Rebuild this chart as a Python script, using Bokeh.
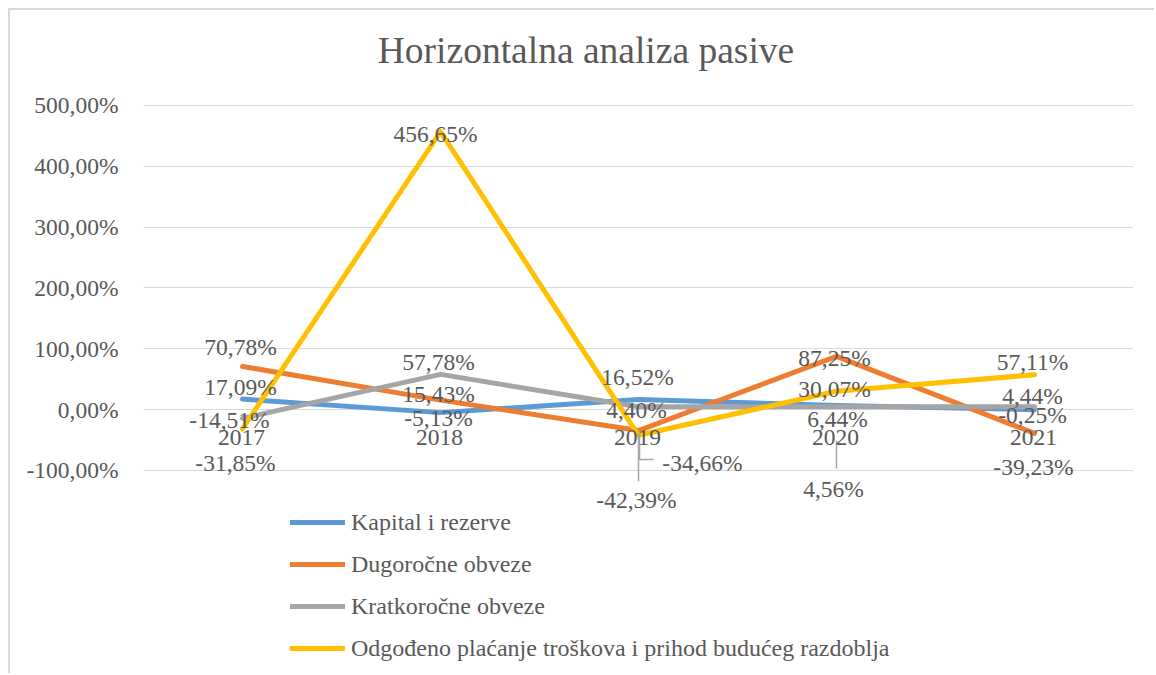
from bokeh.plotting import figure
from bokeh.models import ColumnDataSource, Range1d, FixedTicker, Legend, LegendItem, Label
from bokeh.core.properties import value
from bokeh.embed import file_html
from bokeh.resources import INLINE

# ---------------- data ----------------
years = ["2017", "2018", "2019", "2020", "2021"]
series_names = [
    "Kapital i rezerve",
    "Dugoročne obveze",
    "Kratkoročne obveze",
    "Odgođeno plaćanje troškova i prihod budućeg razdoblja",
]
kapital = [17.09, -5.13, 16.52, 6.44, -0.25]
dugorocne = [70.78, 15.43, -34.66, 87.25, -39.23]
kratkorocne = [-14.51, 57.78, 4.40, 4.56, 4.44]
odgodeno = [-31.85, 456.65, -42.39, 30.07, 57.11]
y_ticks = [-100, 0, 100, 200, 300, 400, 500]
y_tick_labels = ["-100,00%", "0,00%", "100,00%", "200,00%", "300,00%", "400,00%", "500,00%"]
title_text = "Horizontalna analiza pasive"

# ---------------- styling / layout ----------------
colors = ["#5b9bd5", "#ed7d31", "#a5a5a5", "#ffc000"]
FONT = "Liberation Serif"
TXT = "#595959"
FS = "23.5px"
FS_LEG = "24px"

W, H = 1146, 665
ML, MR = 133, 23
PX_PER_UNIT = 365.0 / 600.0      # vertical pixels per 1 percentage point
ZERO_Y = 399                      # canvas y of the 0% line
y_top = ZERO_Y / PX_PER_UNIT
y_bot = -(H - ZERO_Y) / PX_PER_UNIT
X_PX = 198.0                      # pixels per category

# label offsets (pixels, dx right, dy down) for each series/year
label_offsets = [
    [(-2, -12), (-2, 5), (-1, -22), (1, 13), (-2, 5)],
    [(-2, -19), (-2, -6), (64, 32), (-2, 2), (-1, 34)],
    [(-13, 2), (-2, -12), (-2, 3), (-3, 82), (-2, -11)],
    [(-7, 34), (-5, 2), (-2, 65), (-2, -2), (-2, -13)],
]

p = figure(width=W, height=H, output_backend="svg", toolbar_location=None,
           x_range=Range1d(-0.5, 4.5), y_range=Range1d(y_bot, y_top),
           min_border_left=ML, min_border_right=MR, min_border_top=0, min_border_bottom=0,
           background_fill_color="white", border_fill_color="white",
           outline_line_color=None,
           styles={"border-top": "2px solid #d9d9d9", "border-left": "2px solid #d9d9d9",
                   "margin-left": "8px", "margin-top": "8px"})

p.xaxis.visible = False
p.xgrid.visible = False
p.yaxis.ticker = FixedTicker(ticks=y_ticks)
p.yaxis.major_label_overrides = {t: l for t, l in zip(y_ticks, y_tick_labels)}
p.yaxis.axis_line_color = None
p.yaxis.major_tick_line_color = None
p.yaxis.minor_tick_line_color = None
p.yaxis.major_tick_out = 0
p.yaxis.major_tick_in = 0
p.yaxis.minor_tick_out = 0
p.yaxis.major_label_standoff = 25
p.yaxis.major_label_text_font = FONT
p.yaxis.major_label_text_font_size = FS
p.yaxis.major_label_text_color = TXT
p.ygrid.ticker = FixedTicker(ticks=y_ticks)
p.ygrid.grid_line_color = "#d9d9d9"
p.ygrid.grid_line_width = 1.2

idx = list(range(len(years)))
all_series = [kapital, dugorocne, kratkorocne, odgodeno]

renderers = []
for vals, col in zip(all_series, colors):
    r = p.line(idx, vals, line_color=col, line_width=5, line_cap="round", line_join="round")
    renderers.append(r)

# leader lines (pixel offsets from point converted to data units)
def lead(i, v, pts):
    xs = [i + dx / X_PX for dx, dy in pts]
    ys = [v - dy / PX_PER_UNIT for dx, dy in pts]
    return xs, ys

leaders = [
    lead(2, odgodeno[2], [(0, -2), (0, 46)]),
    lead(2, dugorocne[2], [(1, 3), (1, 29), (15, 29)]),
    lead(3, kratkorocne[3], [(0, 34), (0, 62)]),
]
p.multi_line([l[0] for l in leaders], [l[1] for l in leaders], line_color="#a6a6a6", line_width=1.5)

# year labels along the zero line
p.text(x=idx, y=[0] * len(years), text=years, x_offset=-1, y_offset=28,
       text_font=value(FONT), text_font_size=FS, text_color=TXT,
       text_align="center", text_baseline="middle")

# data labels
def fmt(v):
    return f"{v:.2f}".replace(".", ",") + "%"

for vals, offs in zip(all_series, label_offsets):
    src = ColumnDataSource(dict(x=idx, y=vals, t=[fmt(v) for v in vals],
                                dx=[o[0] for o in offs], dy=[o[1] for o in offs]))
    p.text(x="x", y="y", text="t", x_offset="dx", y_offset="dy", source=src,
           text_font=value(FONT), text_font_size=FS, text_color=TXT,
           text_align="center", text_baseline="middle")

# title
p.add_layout(Label(x=442.5, y=625, x_units="screen", y_units="screen", text=title_text,
                   text_align="center", text_baseline="middle", text_font=FONT,
                   text_font_size="37.5px", text_color=TXT))

legend = Legend(items=[LegendItem(label=n, renderers=[r]) for n, r in zip(series_names, renderers)],
                location=(147, 12), orientation="vertical", spacing=12,
                glyph_width=55, glyph_height=30, label_height=30, label_standoff=6,
                padding=0, margin=0, border_line_color=None, background_fill_alpha=0,
                label_text_font=FONT, label_text_font_size=FS_LEG, label_text_color=TXT)
p.add_layout(legend)

open("out.html", "w").write(file_html(p, INLINE))
